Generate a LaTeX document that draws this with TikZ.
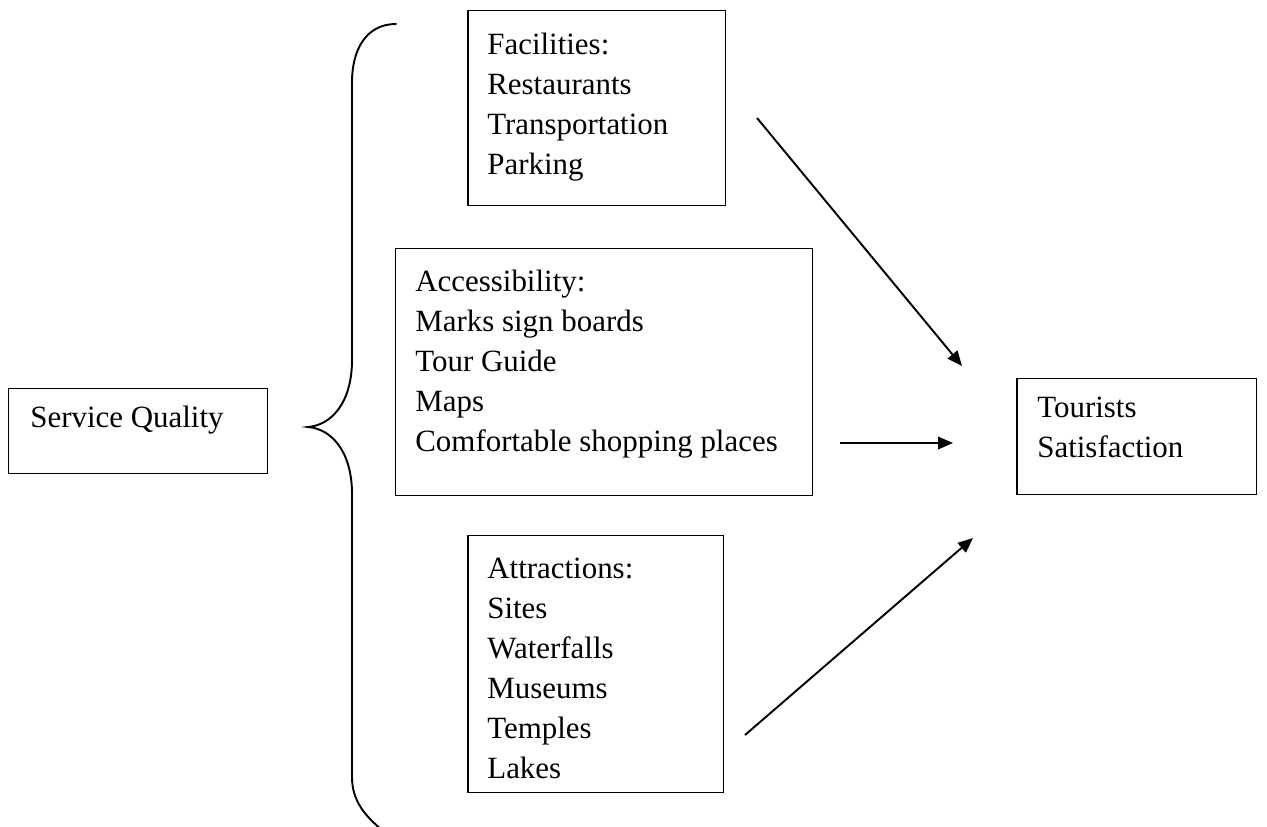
\documentclass[tikz,border=0pt]{standalone}
\usepackage{fontspec}
\setmainfont{Liberation Serif}
\usepackage{tikz}
\usetikzlibrary{arrows.meta,positioning}

\begin{document}
\begin{tikzpicture}[
    x=0.02cm, y=-0.02cm,
    box/.style={rectangle, draw=black, line width=0.85pt, anchor=north west, inner sep=0pt},
    txt/.style={anchor=north west, inner sep=0pt, align=left, font=\fontsize{17.6}{22.76}\selectfont},
    arrow/.style={-{Triangle[length=0.3cm, width=0.25cm]}, line width=1.1pt},
    brace/.style={line width=1.1pt, line cap=round}
]
    \useasboundingbox (0,0) rectangle (1267,827);

    % boxes
    \node [box, minimum width=5.18cm, minimum height=1.70cm] (sq) at (8,388) {};
    \node [box, minimum width=5.16cm, minimum height=3.90cm] (fac) at (467,10) {};
    \node [box, minimum width=8.34cm, minimum height=4.94cm] (acc) at (395,248) {};
    \node [box, minimum width=5.12cm, minimum height=5.14cm] (att) at (467,535) {};
    \node [box, minimum width=4.80cm, minimum height=2.32cm] (ts) at (1016,378) {};

    % texts
    \node [txt] (sqtxt) at (30,399) {\strut Service Quality};
    \node [txt] (factxt) at (487,26) {\strut Facilities:\\Restaurants\\Transportation\\Parking};
    \node [txt] (acctxt) at (415,263) {\strut Accessibility:\\Marks sign boards\\Tour Guide\\Maps\\Comfortable shopping places};
    \node [txt] (atttxt) at (487,550) {\strut Attractions:\\Sites\\Waterfalls\\Museums\\Temples\\Lakes};
    \node [txt] (tstxt) at (1037,389) {\strut Tourists\\Satisfaction};

    % brace
    \draw [brace] (396,24) .. controls (366,24) and (352,50) .. (352,82)
        -- (352,360) .. controls (352,402) and (332,425) .. (308,427)
        .. controls (332,429) and (352,452) .. (352,494)
        -- (352,777) .. controls (352,800) and (364,815) .. (382,830);

    % arrows
    \coordinate (fac out) at (757,118);
    \coordinate (acc out) at (840,443);
    \coordinate (att out) at (745,735);
    \coordinate (ts in1) at (962,366);
    \coordinate (ts in2) at (953,443);
    \coordinate (ts in3) at (973,538);
    \draw [arrow] (fac out) -- (ts in1);
    \draw [arrow] (acc out) -- (ts in2);
    \draw [arrow] (att out) -- (ts in3);
\end{tikzpicture}
\end{document}
